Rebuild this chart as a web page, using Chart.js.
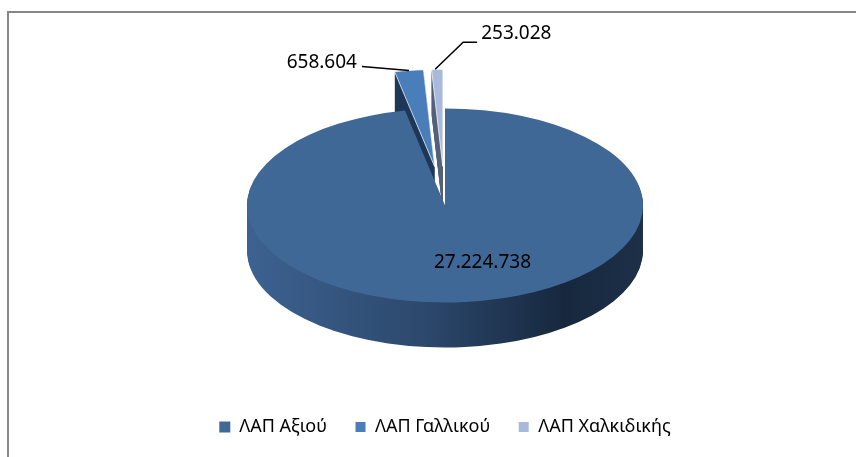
<!DOCTYPE html>
<html>
<head>
<meta charset="utf-8">
<script src="https://cdn.jsdelivr.net/npm/chart.js@4.4.1/dist/chart.umd.min.js"></script>
<style>
    html, body { margin: 0; padding: 0; background: #fff; }
    #wrap { position: relative; width: 856px; height: 457px; overflow: hidden; }
    #frame { position: absolute; left: 7px; top: 11px; right: -10px; bottom: -10px;
             border-left: 2px solid #878787; border-top: 2px solid #878787; }
    canvas { position: absolute; left: 0; top: 0; }
</style>
</head>
<body>
<div id="wrap"><div id="frame"></div><canvas id="pie" width="856" height="457"></canvas></div>
<script>
// data
const categories = ['ΛΑΠ Αξιού', 'ΛΑΠ Γαλλικού', 'ΛΑΠ Χαλκιδικής'];
const values = [27224738, 658604, 253028];

// look
const faceColors = ['#3f6897', '#4a7ebb', '#a8badb'];
const sideColors = [null, '#1f3858', '#56637a'];
const explode = [0, 80, 80];     // how far each slice is pulled out (px, before tilt)
const TILT = 0.49;               // vertical squash of the pie
const DEPTH = 45;                // thickness of the pie

const fmt = (v) => String(v).replace(/\B(?=(\d{3})+(?!\d))/g, '.');

// move to the exploded spot and flatten the disc around its centre
const applyTilt = (ctx, el, i, dy = 0) => {
    const h = (el.startAngle + el.endAngle) / 2;
    ctx.translate(0, el.y + dy);
    ctx.scale(1, TILT);
    ctx.translate(Math.cos(h) * explode[i], -el.y + Math.sin(h) * explode[i]);
};

// a point of the slice, in screen pixels
const project = (el, i, angle, r) => {
    const h = (el.startAngle + el.endAngle) / 2;
    const ux = Math.cos(h) * explode[i] + Math.cos(angle) * r;
    const uy = Math.sin(h) * explode[i] + Math.sin(angle) * r;
    return { x: el.x + ux, y: el.y + uy * TILT };
};

const pie3d = {
    id: 'pie3d',
    afterUpdate(chart) {
        chart.getDatasetMeta(0).data.forEach((el, i) => {
            el.draw = function (ctx, area) {
                ctx.save();
                applyTilt(ctx, this, i);
                Chart.ArcElement.prototype.draw.call(this, ctx, area);
                ctx.restore();
            };
        });
    },
    beforeDatasetsDraw(chart) {
        const ctx = chart.ctx;
        chart.getDatasetMeta(0).data.forEach((el, i) => {
            let fill = sideColors[i];
            if (!fill) {
                const g = ctx.createLinearGradient(el.x - el.outerRadius, 0, el.x + el.outerRadius, 0);
                g.addColorStop(0, '#3d6291');
                g.addColorStop(0.45, '#2c486c');
                g.addColorStop(0.8, '#17283e');
                g.addColorStop(1, '#1d3048');
                fill = g;
            }
            const ghost = Object.create(el);
            ghost.options = { ...el.options, backgroundColor: fill, borderWidth: 0 };
            for (let d = DEPTH; d >= 1; d--) {
                ctx.save();
                applyTilt(ctx, el, i, d);
                Chart.ArcElement.prototype.draw.call(ghost, ctx);
                ctx.restore();
            }
        });
    },
    afterDatasetsDraw(chart) {
        const ctx = chart.ctx;
        const arcs = chart.getDatasetMeta(0).data;
        ctx.save();
        ctx.fillStyle = '#000';
        ctx.strokeStyle = '#000';
        ctx.lineWidth = 1.5;
        ctx.font = '19px "Noto Sans"';
        ctx.textBaseline = 'middle';

        // big slice: label inside
        const main = arcs[0];
        const mh = (main.startAngle + main.endAngle) / 2;
        const mp = project(main, 0, mh, main.outerRadius * 0.62);
        ctx.textAlign = 'center';
        ctx.fillText(fmt(values[0]), mp.x + 25, mp.y - 3);

        // small slices: labels outside with leader lines
        const g = arcs[1];
        const gp = project(g, 1, (g.startAngle + g.endAngle) / 2, g.outerRadius);
        ctx.beginPath();
        ctx.moveTo(gp.x, gp.y);
        ctx.lineTo(gp.x - 47, gp.y - 4);
        ctx.stroke();
        ctx.textAlign = 'right';
        ctx.fillText(fmt(values[1]), gp.x - 52, gp.y - 8);

        const c = arcs[2];
        const cp = project(c, 2, (c.startAngle + c.endAngle) / 2, c.outerRadius);
        ctx.beginPath();
        ctx.moveTo(cp.x - 2, cp.y);
        ctx.lineTo(cp.x + 26, cp.y - 27);
        ctx.lineTo(cp.x + 40, cp.y - 27);
        ctx.stroke();
        ctx.textAlign = 'left';
        ctx.fillText(fmt(values[2]), cp.x + 44, cp.y - 36);
        ctx.restore();
    }
};

new Chart(document.getElementById('pie'), {
    type: 'pie',
    data: {
        labels: categories,
        datasets: [{
            data: values,
            backgroundColor: faceColors,
            borderColor: '#ffffff',
            borderWidth: [0, 1, 1]
        }]
    },
    options: {
        responsive: false,
        animation: false,
        radius: 198,
        layout: { padding: { left: 34, top: 21, right: 0, bottom: 11 } },
        plugins: {
            tooltip: { enabled: false },
            legend: {
                position: 'bottom',
                labels: {
                    font: { family: 'Noto Sans', size: 18 },
                    color: '#000',
                    boxWidth: 11,
                    boxHeight: 11,
                    padding: 28
                }
            }
        }
    },
    plugins: [pie3d]
});
</script>
</body>
</html>
